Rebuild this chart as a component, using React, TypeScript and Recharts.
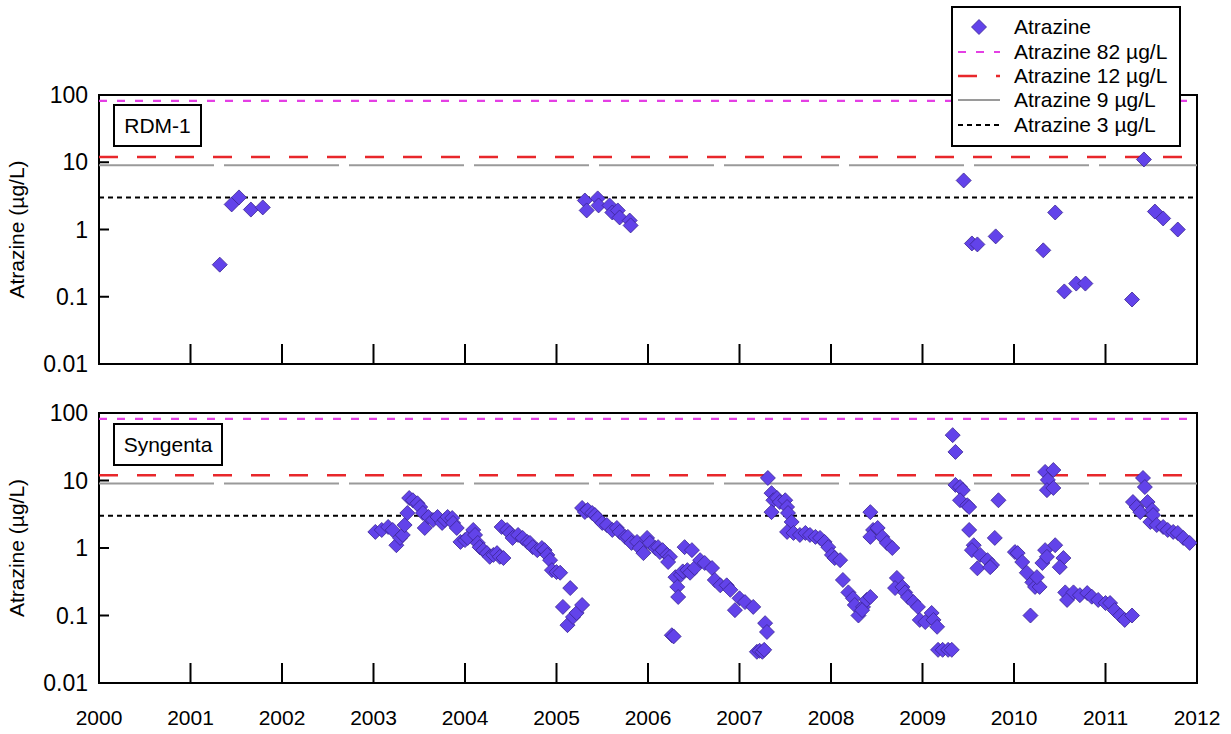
import React from 'react';
import { ScatterChart, Scatter, XAxis, YAxis, ReferenceLine, ReferenceArea } from 'recharts';

const FONT = '"Liberation Sans", Arial, Helvetica, sans-serif';

const yearTicks = [2000, 2001, 2002, 2003, 2004, 2005, 2006, 2007, 2008, 2009, 2010, 2011, 2012];
const valueTicks = [0.01, 0.1, 1, 10, 100];

const guideValues = [82, 12, 9, 3];
const guideLabels = ['Atrazine 82 µg/L', 'Atrazine 12 µg/L', 'Atrazine 9 µg/L', 'Atrazine 3 µg/L'];
const guideColors = ['#e43fe4', '#e8272b', '#9a9a9a', '#000000'];
const guideDashes = ['8 10', '19 19', '115 10', '5 4'];
const guideWidths = [2.2, 2.5, 2, 2];
const seriesLabel = 'Atrazine';

const panelNames = ['RDM-1', 'Syngenta'];

const rdmYears = [
  2001.32, 2001.45, 2001.53, 2001.66, 2001.79,
  2005.31, 2005.33, 2005.45, 2005.46, 2005.58, 2005.61, 2005.67, 2005.69, 2005.8, 2005.81,
  2009.45, 2009.54, 2009.6, 2009.8, 2010.32, 2010.45, 2010.55, 2010.68, 2010.78,
  2011.29, 2011.42, 2011.54, 2011.63, 2011.79,
];
const rdmValues = [
  0.3, 2.36, 3.0, 1.98, 2.13,
  2.7, 1.92, 2.9, 2.28, 2.28, 1.79, 1.92, 1.51, 1.36, 1.15,
  5.36, 0.62, 0.6, 0.79, 0.49, 1.79, 0.12, 0.157, 0.157,
  0.091, 11.0, 1.85, 1.46, 1.0,
];

const synYears = [
  // 2003 - 2004.4
  2003.02, 2003.09, 2003.16, 2003.21, 2003.25, 2003.29, 2003.32, 2003.34, 2003.37, 2003.39,
  2003.43, 2003.48, 2003.51, 2003.54, 2003.56, 2003.6, 2003.65, 2003.7, 2003.75, 2003.78,
  2003.81, 2003.86, 2003.87, 2003.91, 2003.95, 2004.0, 2004.03, 2004.09, 2004.11, 2004.14,
  2004.16, 2004.2, 2004.24, 2004.27, 2004.31, 2004.35, 2004.38, 2004.42,
  // 2004.4 - 2005.3
  2004.4, 2004.46, 2004.49, 2004.52, 2004.58, 2004.63, 2004.68, 2004.71, 2004.74, 2004.79,
  2004.84, 2004.87, 2004.9, 2004.93, 2004.95, 2005.0, 2005.04, 2005.15, 2005.07, 2005.12,
  2005.18, 2005.22, 2005.28,
  // 2005.3 - 2006.3
  2005.28, 2005.31, 2005.34, 2005.39, 2005.42, 2005.45, 2005.5, 2005.55, 2005.61, 2005.66,
  2005.69, 2005.75, 2005.78, 2005.82, 2005.88, 2005.91, 2005.95, 2005.99, 2006.02, 2006.08,
  2006.11, 2006.13, 2006.16, 2006.21, 2006.24, 2006.22, 2006.26, 2006.28,
  // 2006.3 - 2007.3
  2006.3, 2006.32, 2006.33, 2006.36, 2006.38, 2006.4, 2006.43, 2006.46, 2006.48, 2006.51,
  2006.57, 2006.62, 2006.7, 2006.73, 2006.79, 2006.86, 2006.9, 2006.95, 2007.0, 2007.06,
  2007.15, 2007.28, 2007.3, 2007.19, 2007.22, 2007.25, 2007.27,
  // 2007.3 - 2008.45
  2007.31, 2007.35, 2007.37, 2007.41, 2007.44, 2007.35, 2007.5, 2007.52, 2007.53, 2007.57,
  2007.52, 2007.59, 2007.66, 2007.72, 2007.77, 2007.83, 2007.88, 2007.93, 2007.97, 2008.01,
  2008.04, 2008.1, 2008.13, 2008.19, 2008.24, 2008.26, 2008.3, 2008.35, 2008.39, 2008.43, 2008.34,
  // 2008.4 - 2009.3
  2008.43, 2008.46, 2008.51, 2008.43, 2008.56, 2008.61, 2008.67, 2008.72, 2008.7, 2008.78,
  2008.81, 2008.84, 2008.9, 2008.95, 2008.97, 2009.03, 2009.1, 2009.12, 2009.16, 2009.17,
  2009.22, 2009.28, 2009.32,
  // 2009.3 - 2010.0
  2009.33, 2009.36, 2009.36, 2009.41, 2009.44, 2009.41, 2009.49, 2009.51, 2009.83, 2009.51,
  2009.56, 2009.54, 2009.63, 2009.6, 2009.71, 2009.76, 2009.79, 2009.74,
  // 2010.0 - 2011.3
  2010.01, 2010.04, 2010.09, 2010.14, 2010.2, 2010.23, 2010.28, 2010.18, 2010.25, 2010.31,
  2010.34, 2010.36, 2010.45, 2010.54, 2010.5, 2010.34, 2010.43, 2010.37, 2010.36, 2010.43,
  2010.56, 2010.58, 2010.65, 2010.72, 2010.8, 2010.85, 2010.92, 2011.0, 2011.05, 2011.1,
  2011.16, 2011.21, 2011.29,
  // 2011.3 - 2012
  2011.3, 2011.34, 2011.38, 2011.41, 2011.43, 2011.46, 2011.49, 2011.51, 2011.52, 2011.56,
  2011.63, 2011.68, 2011.74, 2011.79, 2011.85, 2011.92,
];
const synValues = [
  1.73, 1.85, 2.05, 1.85, 1.1, 1.41, 1.56, 2.19, 3.3, 5.5,
  5.1, 4.6, 4.05, 3.3, 1.98, 2.88, 2.6, 2.88, 2.35, 2.6,
  2.88, 2.78, 2.35, 1.98, 1.23, 1.31, 1.41, 1.85, 1.56, 1.19,
  1.03, 0.93, 0.84, 0.74, 0.79, 0.84, 0.74, 0.71,
  2.05, 1.85, 1.67, 1.41, 1.56, 1.41, 1.23, 1.19, 1.03, 0.93,
  1.0, 0.93, 0.79, 0.66, 0.47, 0.44, 0.43, 0.255, 0.134, 0.072,
  0.095, 0.109, 0.143,
  3.92, 3.42, 3.66, 3.3, 3.08, 2.78, 2.35, 2.19, 1.85, 1.98,
  1.73, 1.46, 1.46, 1.19, 1.23, 1.0, 0.84, 1.41, 1.19, 1.0,
  1.03, 0.87, 0.93, 0.79, 0.74, 0.62, 0.051, 0.049,
  0.37, 0.265, 0.188, 0.4, 0.45, 1.03, 0.47, 0.43, 0.93, 0.505,
  0.66, 0.6, 0.505, 0.336, 0.28, 0.28, 0.24, 0.12, 0.18, 0.158,
  0.134, 0.077, 0.057, 0.029, 0.03, 0.029, 0.031,
  10.9, 6.5, 5.1, 5.5, 4.8, 3.4, 5.1, 4.05, 3.3, 2.43,
  1.73, 1.67, 1.56, 1.67, 1.56, 1.46, 1.41, 1.23, 1.03, 0.79,
  0.71, 0.66, 0.336, 0.22, 0.18, 0.143, 0.1, 0.134, 0.17, 0.188, 0.12,
  3.4, 1.85, 1.98, 1.46, 1.46, 1.19, 1.0, 0.36, 0.255, 0.265,
  0.22, 0.188, 0.158, 0.134, 0.086, 0.08, 0.109, 0.086, 0.068, 0.031,
  0.031, 0.031, 0.031,
  47, 26.5, 8.6, 8.0, 7.2, 5.1, 4.3, 4.05, 5.1, 1.85,
  1.1, 0.93, 0.79, 0.5, 0.66, 0.56, 1.41, 0.52,
  0.87, 0.84, 0.62, 0.43, 0.31, 0.265, 0.265, 0.1, 0.37, 0.6,
  0.93, 0.74, 1.1, 0.71, 0.52, 13.4, 14.3, 10.2, 7.2, 7.75,
  0.22, 0.17, 0.22, 0.2, 0.215, 0.19, 0.17, 0.153, 0.153, 0.12,
  0.1, 0.086, 0.1,
  4.8, 4.05, 3.4, 10.9, 8.0, 4.8, 2.43, 3.66, 3.08, 2.19,
  2.05, 1.85, 1.73, 1.67, 1.41, 1.19,
];

const rdmData = rdmYears.map((x, i) => ({ x, y: rdmValues[i] }));
const synData = synYears.map((x, i) => ({ x, y: synValues[i] }));

const FILL = '#6243ea';
const EDGE = '#3a2592';
const FS = 21;
const YFS = 23;
const Y_TICK_MARGIN = 11;
const X_TICK_MARGIN = 27;

const Diamond = (props: any) => {
  const { cx, cy } = props;
  if (cx == null || cy == null) return null;
  const r = 7.5;
  return (
    <polygon
      points={`${cx},${cy - r} ${cx + r},${cy} ${cx},${cy + r} ${cx - r},${cy}`}
      fill={FILL}
      stroke={EDGE}
      strokeWidth={0.8}
    />
  );
};

const YTick = (props: any) => {
  const { x, y, payload } = props;
  const ax = x + Y_TICK_MARGIN;
  return (
    <g>
      <line x1={ax} x2={ax + 10} y1={y} y2={y} stroke="#000" strokeWidth={2} />
      <text x={x} y={y} dy="0.35em" textAnchor="end" fontSize={YFS} fontFamily={FONT} fill="#000">
        {String(payload.value)}
      </text>
    </g>
  );
};

const makeXTick = (showLabel: boolean) => (props: any) => {
  const { x, y, payload } = props;
  const ay = y - X_TICK_MARGIN;
  return (
    <g>
      <line x1={x} x2={x} y1={ay} y2={ay - 20} stroke="#000" strokeWidth={2} />
      {showLabel && (
        <text x={x} y={y} dy="0.71em" textAnchor="middle" fontSize={FS} fontFamily={FONT} fill="#000">
          {String(payload.value)}
        </text>
      )}
    </g>
  );
};

function Panel({ data, top, height, showX }: { data: any[]; top: number; height: number; showX: boolean }) {
  return (
    <div style={{ position: 'absolute', left: 0, top, width: 1231, height }}>
      <ScatterChart width={1231} height={height} margin={{ top: 95, right: 34, bottom: 0, left: 0 }}>
        <XAxis
          type="number"
          dataKey="x"
          domain={[2000, 2012]}
          ticks={yearTicks}
          interval={0}
          allowDataOverflow
          axisLine={false}
          tickLine={false}
          tickSize={0}
          tickMargin={X_TICK_MARGIN}
          height={50}
          tick={makeXTick(showX)}
        />
        <YAxis
          type="number"
          dataKey="y"
          scale="log"
          domain={[0.01, 100]}
          ticks={valueTicks}
          interval={0}
          allowDataOverflow
          axisLine={false}
          tickLine={false}
          tickSize={0}
          tickMargin={Y_TICK_MARGIN}
          width={99}
          tick={YTick}
          label={{
            value: 'Atrazine (µg/L)',
            angle: -90,
            position: 'insideLeft',
            offset: 17,
            style: { textAnchor: 'middle', fontSize: FS, fontFamily: FONT, fill: '#000' },
          }}
        />
        {guideValues.map((v, i) => (
          <ReferenceLine
            key={v}
            y={v}
            stroke={guideColors[i]}
            strokeWidth={guideWidths[i]}
            strokeDasharray={guideDashes[i]}
          />
        ))}
        <ReferenceArea x1={2000} x2={2012} y1={0.01} y2={100} fill="none" stroke="#000" strokeWidth={2} />
        <Scatter data={data} shape={Diamond} isAnimationActive={false} />
      </ScatterChart>
    </div>
  );
}

const labelBox = (text: string, left: number, top: number, width: number) => (
  <div
    style={{
      position: 'absolute',
      left,
      top,
      width,
      height: 43,
      boxSizing: 'border-box',
      border: '2px solid #000',
      background: '#fff',
      fontFamily: FONT,
      fontSize: FS,
      display: 'flex',
      alignItems: 'center',
      justifyContent: 'center',
      color: '#000',
    }}
  >
    {text}
  </div>
);

function LegendBox() {
  const rowY = [27, 52, 76, 100, 125];
  return (
    <svg style={{ position: 'absolute', left: 0, top: 0 }} width={1231} height={160}>
      <rect x={952} y={7} width={228} height={139} fill="#fff" stroke="#000" strokeWidth={2} />
      <polygon points={`979,${rowY[0] - 7.5} 986.5,${rowY[0]} 979,${rowY[0] + 7.5} 971.5,${rowY[0]}`} fill={FILL} stroke={EDGE} strokeWidth={0.8} />
      <text x={1014} y={rowY[0]} dy="0.35em" fontSize={FS} fontFamily={FONT} fill="#000">{seriesLabel}</text>
      {guideLabels.map((lab, i) => (
        <g key={lab}>
          <line x1={958} x2={1000} y1={rowY[i + 1]} y2={rowY[i + 1]} stroke={guideColors[i]} strokeWidth={guideWidths[i]} strokeDasharray={guideDashes[i]} />
          <text x={1014} y={rowY[i + 1]} dy="0.35em" fontSize={FS} fontFamily={FONT} fill="#000">{lab}</text>
        </g>
      ))}
    </svg>
  );
}

export default function App() {
  return (
    <div style={{ position: 'absolute', left: 0, top: 0, width: 1231, height: 734, background: '#fff', fontFamily: FONT, overflow: 'hidden' }}>
      <Panel data={rdmData} top={0} height={414} showX={false} />
      <Panel data={synData} top={318} height={415} showX={true} />
      {labelBox(panelNames[0], 113, 104, 89)}
      {labelBox(panelNames[1], 113, 423, 110)}
      <LegendBox />
    </div>
  );
}
